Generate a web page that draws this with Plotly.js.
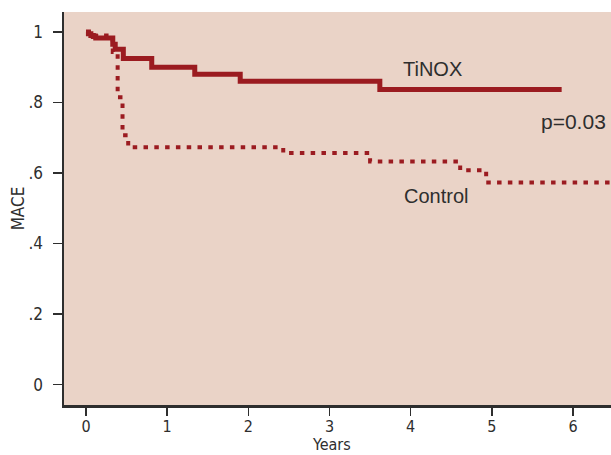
<!DOCTYPE html>
<html>
<head>
<meta charset="utf-8">
<script src="https://cdn.plot.ly/plotly-3.0.1.min.js"></script>
<style>html,body{margin:0;padding:0;background:#fff;}#chart{width:611px;height:455px;}</style>
</head>
<body>
<div id="chart"></div>
<script>
// Kaplan-Meier event-free survival (MACE)
const tinoxYears = [0, 0.03, 0.06, 0.09, 0.12, 0.33, 0.36, 0.46, 0.81, 1.34, 1.90, 3.62, 5.86];
const tinoxMACE  = [1, 0.995, 0.990, 0.987, 0.983, 0.965, 0.951, 0.925, 0.900, 0.880, 0.860, 0.837, 0.837];

const controlYears = [0, 0.10, 0.33, 0.39, 0.45, 0.52, 2.43, 3.50, 4.61, 4.93, 6.60];
const controlMACE  = [1, 0.990, 0.943, 0.815, 0.707, 0.673, 0.657, 0.633, 0.608, 0.573, 0.573];

const xTicks = [0, 1, 2, 3, 4, 5, 6];
const yTickVals = [0, 0.2, 0.4, 0.6, 0.8, 1];
const yTickText = ["0", ".2", ".4", ".6", ".8", "1"];

const seriesLabels = ["TiNOX", "Control"];
const pValueText = "p=0.03";
const xTitle = "Years";
const yTitle = "MACE";

const red = "#9b1b20";
const ink = "#2e2e2e";
const narrow = "Liberation Sans Narrow, DejaVu Sans Condensed, Arial Narrow, sans-serif";

const traces = [
  {x: controlYears, y: controlMACE, type: "scatter", mode: "lines", name: seriesLabels[1],
   line: {shape: "hv", color: red, width: 4, dash: "4.5px,6.3px"}},
  {x: tinoxYears, y: tinoxMACE, type: "scatter", mode: "lines", name: seriesLabels[0],
   line: {shape: "hv", color: red, width: 5}}
];

const layout = {
  width: 611, height: 455,
  margin: {l: 64, r: 0, t: 12, b: 50},
  paper_bgcolor: "#ffffff",
  plot_bgcolor: "#ead3c7",
  showlegend: false,
  xaxis: {
    range: [-0.271, 6.468], tickvals: xTicks, ticktext: xTicks.map(String),
    showgrid: false, zeroline: false, showline: true, linecolor: ink, linewidth: 2.5,
    ticks: "outside", ticklen: 8, tickwidth: 1.5, tickcolor: ink,
    tickfont: {family: narrow, size: 16, color: ink},
    ticklabelstandoff: -3
  },
  yaxis: {
    range: [-0.058, 1.0567], tickvals: yTickVals, ticktext: yTickText,
    showgrid: false, zeroline: false, showline: true, linecolor: ink, linewidth: 2.5,
    ticks: "outside", ticklen: 9, tickwidth: 1.5, tickcolor: ink,
    tickfont: {family: narrow, size: 17, color: ink},
    ticklabelstandoff: 6,
    title: {text: yTitle, font: {family: narrow, size: 17, color: ink}, standoff: 0}
  },
  annotations: [
    {x: 3.02, y: -0.1272, xref: "x", yref: "paper", yanchor: "bottom", borderpad: 0, text: xTitle, showarrow: false,
     font: {family: narrow, size: 16, color: ink}},
    {x: 4.27, y: 0.895, xref: "x", yref: "y", text: seriesLabels[0], showarrow: false,
     font: {family: "Liberation Sans, Arial, sans-serif", size: 20, color: ink}},
    {x: 6.01, y: 0.745, xref: "x", yref: "y", text: pValueText, showarrow: false,
     font: {family: "Liberation Sans, Arial, sans-serif", size: 21, color: ink}},
    {x: 4.31, y: 0.535, xref: "x", yref: "y", text: seriesLabels[1], showarrow: false,
     font: {family: "Liberation Sans, Arial, sans-serif", size: 20, color: ink}}
  ]
};

Plotly.newPlot("chart", traces, layout, {staticPlot: true, displayModeBar: false});
</script>
</body>
</html>
